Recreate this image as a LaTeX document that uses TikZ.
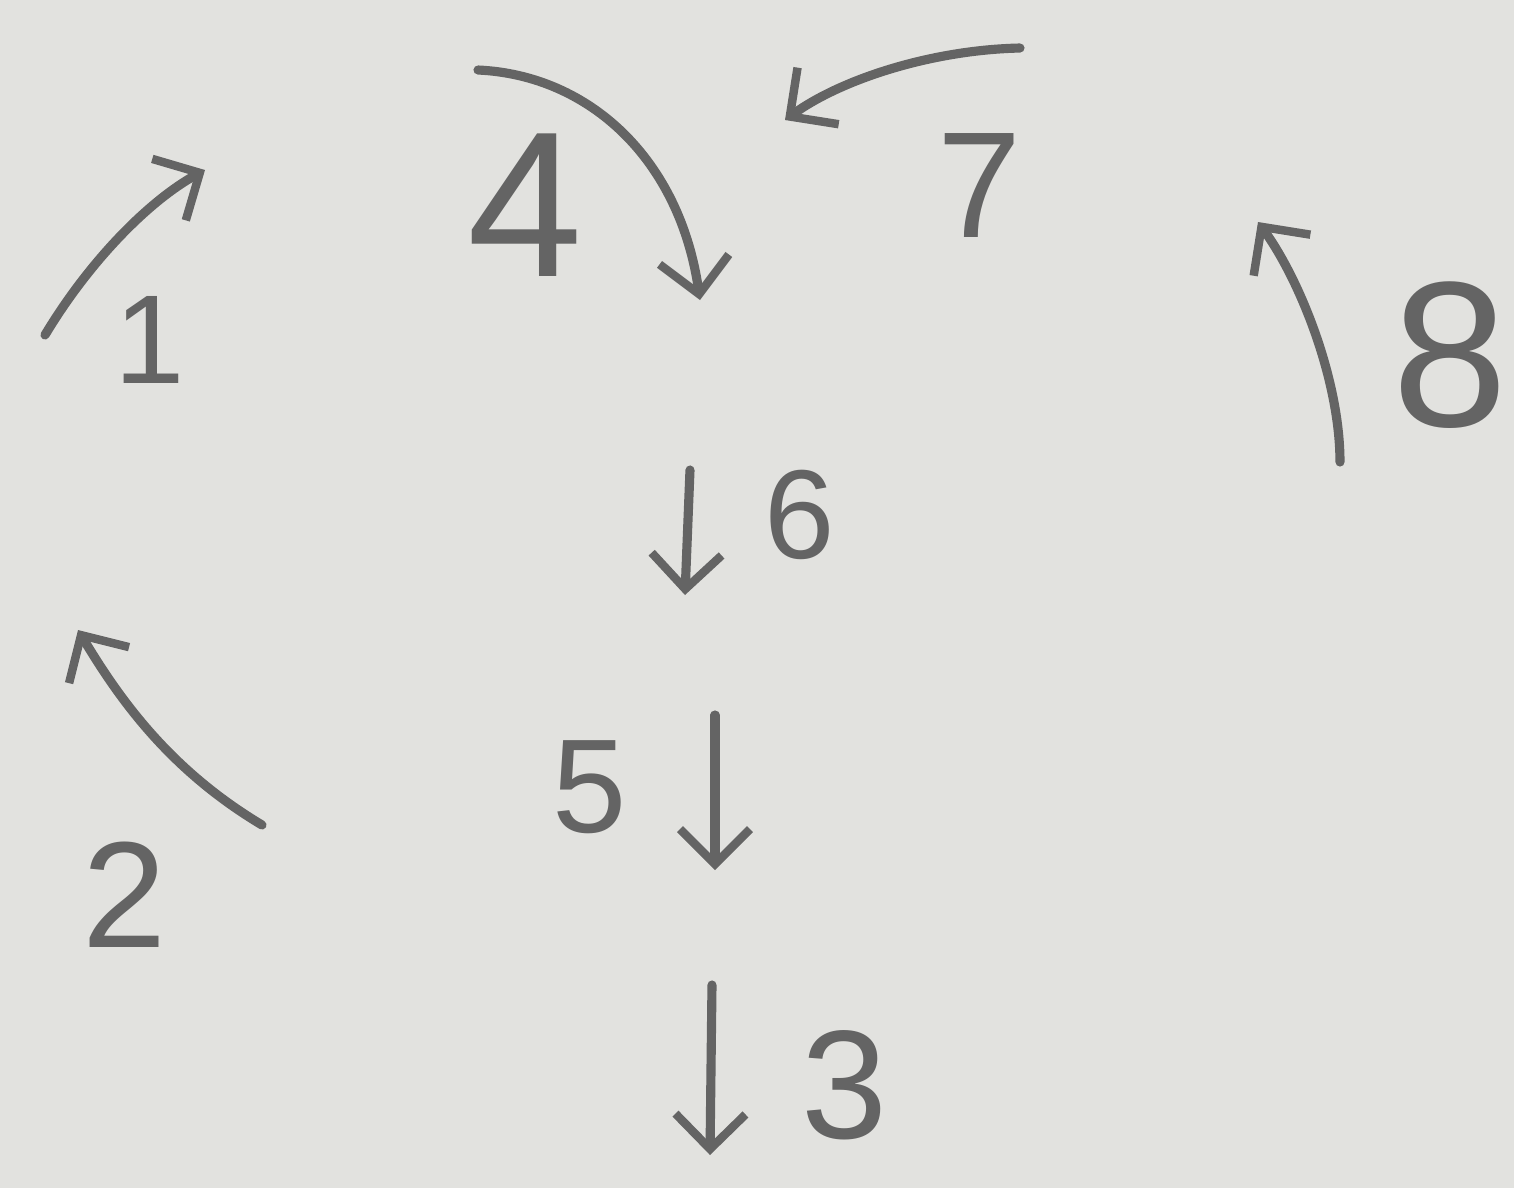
\documentclass[tikz,border=0pt]{standalone}
\usepackage{fontspec}
\setmainfont{Liberation Sans}
\usetikzlibrary{arrows.meta}
\definecolor{paper}{RGB}{226,226,223}
\definecolor{pencil}{RGB}{100,100,100}
\tikzset{
  digit/.style={text=pencil, inner sep=0pt, font=\fontsize{#1}{#1}\selectfont},
  pen/.style={draw=pencil, line width=2.6pt, line cap=round,
    -{Straight Barb[length=3.5mm,width=7mm,line width=2.4pt]}},
}
\begin{document}
\begin{tikzpicture}
\fill[paper] (0,0) rectangle (15.14,-11.88);
\useasboundingbox (0,0) rectangle (15.14,-11.88);
% digits
\node[digit=36] (n1) at (1.50,-3.40) {1};
\node[digit=59] (n4) at (5.25,-2.05) {4};
\node[digit=43] (n7) at (9.80,-1.85) {7};
\node[digit=59] (n8) at (14.50,-3.55) {8};
\node[digit=36] (n6) at (8.00,-5.15) {6};
\node[digit=43] (n2) at (1.25,-8.95) {2};
\node[digit=38] (n5) at (5.90,-7.87) {5};
\node[digit=44] (n3) at (8.45,-10.85) {3};
% arrow ends
\coordinate (a1s) at (0.45,-3.35); \coordinate (a1e) at (2.05,-1.70);
\coordinate (a4s) at (4.78,-0.70); \coordinate (a4e) at (7.00,-3.00);
\coordinate (a7s) at (10.20,-0.48); \coordinate (a7e) at (7.85,-1.20);
\coordinate (a8s) at (13.40,-4.62); \coordinate (a8e) at (12.58,-2.22);
\coordinate (a6s) at (6.90,-4.70); \coordinate (a6e) at (6.85,-5.95);
\coordinate (a2s) at (2.62,-8.25); \coordinate (a2e) at (0.78,-6.30);
\coordinate (a5s) at (7.15,-7.15); \coordinate (a5e) at (7.15,-8.70);
\coordinate (a3s) at (7.12,-9.85); \coordinate (a3e) at (7.10,-11.55);
% arrows
\draw[pen] (a1s) .. controls (0.90,-2.60) and (1.50,-2.00) .. (a1e);
\draw[pen] (a4s) .. controls (5.90,-0.75) and (6.80,-1.60) .. (a4e);
\draw[pen] (a7s) .. controls (9.30,-0.50) and (8.40,-0.80) .. (a7e);
\draw[pen] (a8s) .. controls (13.40,-3.80) and (13.00,-2.80) .. (a8e);
\draw[pen] (a6s) -- (a6e);
\draw[pen] (a2s) .. controls (1.70,-7.70) and (1.20,-7.00) .. (a2e);
\draw[pen] (a5s) -- (a5e);
\draw[pen] (a3s) -- (a3e);
\end{tikzpicture}
\end{document}
